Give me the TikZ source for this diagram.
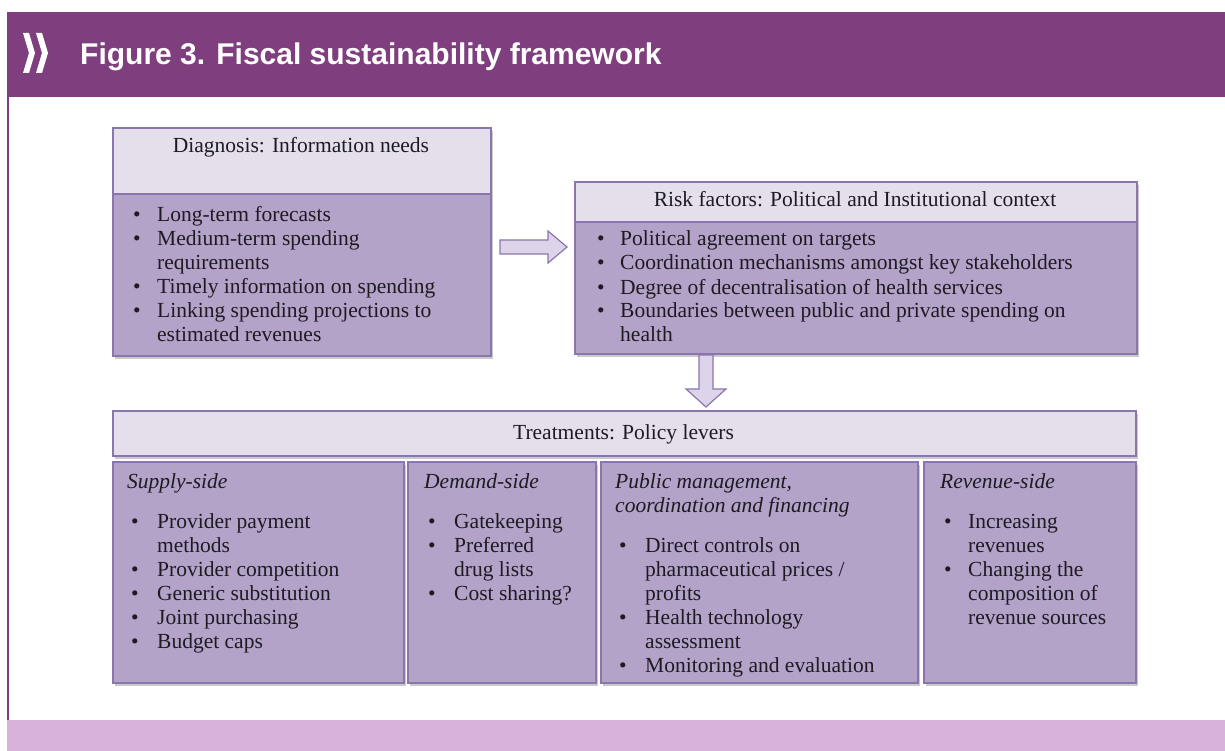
\documentclass[tikz,border=0pt]{standalone}
\usepackage{fontspec}
\setmainfont{Liberation Serif}
\newfontfamily\titlefont{Liberation Sans}
\usetikzlibrary{shadows}
\definecolor{oecdpurple}{HTML}{7F3E7E}
\definecolor{bandpink}{HTML}{D8B2D9}
\definecolor{boxbody}{HTML}{B3A3C9}
\definecolor{boxhead}{HTML}{E5DFEC}
\definecolor{boxline}{HTML}{8A76AC}
\definecolor{arrowfill}{HTML}{DDD4EA}
\definecolor{txtcol}{HTML}{1E1A22}
\tikzset{
  boxbase/.style={draw=boxline, line width=1.8pt, rectangle, inner sep=0pt, anchor=north west,
    drop shadow={shadow xshift=2.5pt, shadow yshift=-3pt, opacity=0.35, fill=black!60}},
  headbox/.style={boxbase, fill=boxhead},
  bodybox/.style={boxbase, fill=boxbody},
  txt/.style={inner sep=0pt, text=txtcol, font=\fontsize{21.5}{24}\selectfont},
  blockarrow/.style={draw=boxline, line width=1.2pt, fill=arrowfill, line join=miter}
}
\begin{document}
\begin{tikzpicture}[x=1pt,y=-1pt]
\useasboundingbox (0,0) rectangle (1225,751);
% frame
\fill[oecdpurple] (7,12) rectangle (1225,97);
\draw[oecdpurple, line width=2pt] (8,97) -- (8,720);
\fill[bandpink] (7,720) rectangle (1225,751);
% chevrons
\fill[white] (23,33) -- (29,33) -- (35,53) -- (29,73) -- (23,73) -- (29,53) -- cycle;
\fill[white] (36,33) -- (42,33) -- (48,53) -- (42,73) -- (36,73) -- (42,53) -- cycle;
\node[anchor=base west, inner sep=0pt, text=white, font=\titlefont\bfseries\fontsize{30}{34}\selectfont] (title) at (80,65) {Figure 3. Fiscal sustainability framework};

% Diagnosis box
\node[headbox, minimum width=378pt, minimum height=66pt] (diaghead) at (112,127) {};
\node[bodybox, minimum width=378pt, minimum height=162pt] (diagbody) at (112,193) {};
\node[txt, anchor=base] (diagtitle) at (301,153) {Diagnosis: Information needs};
\node[txt, anchor=base west] (diagtxt) at (133,222) {\begin{tabular}[t]{@{}p{24pt}@{}l@{}}
\textbullet & Long-term forecasts\\
\textbullet & Medium-term spending\\
 & requirements\\
\textbullet & Timely information on spending\\
\textbullet & Linking spending projections to\\
 & estimated revenues
\end{tabular}};

% Risk box
\node[headbox, minimum width=562pt, minimum height=40pt] (riskhead) at (574,181) {};
\node[bodybox, minimum width=562pt, minimum height=132pt] (riskbody) at (574,221) {};
\node[txt, anchor=base] (risktitle) at (855,207) {Risk factors: Political and Institutional context};
\node[txt, anchor=base west] (risktxt) at (597,246) {\begin{tabular}[t]{@{}p{23pt}@{}l@{}}
\textbullet & Political agreement on targets\\
\textbullet & Coordination mechanisms amongst key stakeholders\\
\textbullet & Degree of decentralisation of health services\\
\textbullet & Boundaries between public and private spending on\\
 & health
\end{tabular}};

% block arrows
\draw[blockarrow] (500,240) -- (548,240) -- (548,231) -- (567,247) -- (548,263) -- (548,254) -- (500,254) -- cycle;
\draw[blockarrow] (699,355) -- (713,355) -- (713,389) -- (726,389) -- (706,407) -- (686,389) -- (699,389) -- cycle;

% Treatments
\node[headbox, minimum width=1023pt, minimum height=45pt] (treathead) at (112,410) {};
\node[txt, anchor=base] (treattitle) at (623.5,439) {Treatments: Policy levers};

\node[bodybox, minimum width=291pt, minimum height=221pt] (supply) at (112,461) {};
\node[bodybox, minimum width=188pt, minimum height=221pt] (demand) at (407,461) {};
\node[bodybox, minimum width=317pt, minimum height=221pt] (public) at (600,461) {};
\node[bodybox, minimum width=212pt, minimum height=221pt] (revenue) at (923,461) {};

\node[txt, anchor=base west, font=\fontsize{21.5}{24}\selectfont\itshape] (supplytitle) at (127,488) {Supply-side};
\node[txt, anchor=base west] (supplytxt) at (131,528) {\begin{tabular}[t]{@{}p{26pt}@{}l@{}}
\textbullet & Provider payment\\
 & methods\\
\textbullet & Provider competition\\
\textbullet & Generic substitution\\
\textbullet & Joint purchasing\\
\textbullet & Budget caps
\end{tabular}};

\node[txt, anchor=base west, font=\fontsize{21.5}{24}\selectfont\itshape] (demandtitle) at (424,488) {Demand-side};
\node[txt, anchor=base west] (demandtxt) at (428,528) {\begin{tabular}[t]{@{}p{26pt}@{}l@{}}
\textbullet & Gatekeeping\\
\textbullet & Preferred\\
 & drug lists\\
\textbullet & Cost sharing?
\end{tabular}};

\node[txt, anchor=base west, font=\fontsize{21.5}{24}\selectfont\itshape] (publictitle) at (615,488) {\begin{tabular}[t]{@{}l@{}}
Public management,\\
coordination and financing
\end{tabular}};
\node[txt, anchor=base west] (publictxt) at (619,552) {\begin{tabular}[t]{@{}p{26pt}@{}l@{}}
\textbullet & Direct controls on\\
 & pharmaceutical prices /\\
 & profits\\
\textbullet & Health technology\\
 & assessment\\
\textbullet & Monitoring and evaluation
\end{tabular}};

\node[txt, anchor=base west, font=\fontsize{21.5}{24}\selectfont\itshape] (revenuetitle) at (940,488) {Revenue-side};
\node[txt, anchor=base west] (revenuetxt) at (944,528) {\begin{tabular}[t]{@{}p{24pt}@{}l@{}}
\textbullet & Increasing\\
 & revenues\\
\textbullet & Changing the\\
 & composition of\\
 & revenue sources
\end{tabular}};
\end{tikzpicture}
\end{document}
